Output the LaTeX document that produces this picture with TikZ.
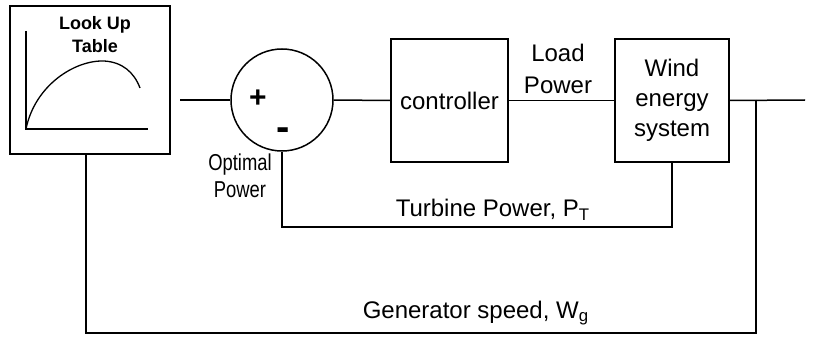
\documentclass[tikz,border=0pt]{standalone}
\usepackage{fontspec}
\setmainfont{Liberation Sans}
\newfontfamily\narrowsans[FakeStretch=0.8]{Liberation Sans}
\begin{document}
\begin{tikzpicture}[x=1pt,y=-1pt,line width=1.5pt,
  block/.style={draw, rectangle, inner sep=0pt, align=center, font=\fontsize{24}{30}\selectfont},
  lbl/.style={inner sep=0pt, align=center, font=\fontsize{24}{32}\selectfont}]
\useasboundingbox (0,0) rectangle (819,339);
\node[block, minimum width=160pt, minimum height=148pt] (lut) at (90,80) {};
\node[draw, circle, minimum size=102pt, inner sep=0pt] (sum) at (282,100) {};
\node[block, minimum width=117pt, minimum height=123pt] (ctrl) at (449.5,100.5) {controller};
\node[block, minimum width=114pt, minimum height=123pt] (wes) at (672,100.5) {Wind\\energy\\system};

\node[inner sep=0pt, align=center, font=\bfseries\fontsize{18}{23}\selectfont] (luttitle) at (95,35) {Look Up\\Table};
\draw (26,31) -- (26,129) -- (148,129);
\draw[line width=1.3pt] (26,129) .. controls (35,85) and (75,60) .. (104,61) .. controls (122,62) and (134,72) .. (140,88);

\node[inner sep=0pt, font=\bfseries\fontsize{30}{30}\selectfont] (plus) at (258,99) {+};
\node[inner sep=0pt, font=\bfseries\fontsize{40}{40}\selectfont] (minus) at (283,134) {-};

\coordinate (lutout) at (180,100);
\coordinate (lutbot) at ([xshift=-4pt]lut.south);
\coordinate (outend) at (805,100);
\coordinate (tap) at (756,100);
\coordinate (tb) at (0,227);
\coordinate (gb) at (0,333);

\draw (lutout) -- (sum.west);
\draw (sum.east) -- (ctrl.west);
\draw (ctrl.east) -- (wes.west);
\draw (wes.east) -- (outend);
\draw (wes.south) -- (wes.south |- tb) -| (sum.south);
\draw (tap) -- (tap |- gb) -| (lutbot);

\node[lbl] (lpow) at (558,69) {Load\\Power};
\node[lbl, font=\narrowsans\fontsize{23}{27}\selectfont] (optp) at (240,176) {Optimal\\Power};
\node[lbl, anchor=base west] (tpow) at (395,217) {Turbine Power, P\textsubscript{T}};
\node[lbl, anchor=base west] (gspeed) at (362,318) {Generator speed, W\textsubscript{g}};
\end{tikzpicture}
\end{document}
